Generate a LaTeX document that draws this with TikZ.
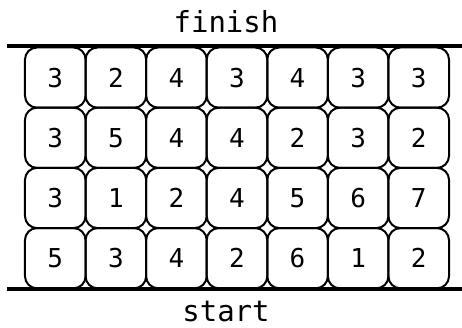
\documentclass[tikz,border=0pt]{standalone}
\usepackage{fontspec}
\newfontfamily\monofont{DejaVu Sans Mono}
\begin{document}
\begin{tikzpicture}[x=1pt,y=-1pt,
  cell/.style={draw, line width=2pt, rounded corners=12pt, minimum width=60.6pt, minimum height=60.2pt, inner sep=0pt, font=\monofont\fontsize{26}{26}\selectfont},
  rail/.style={line width=3.6pt},
  label/.style={font=\monofont\fontsize{29}{29}\selectfont, inner sep=0pt, text depth=0pt}]
\useasboundingbox (0,0) rectangle (462,328);
\foreach \r/\vals in {1/{3,2,4,3,4,3,3},2/{3,5,4,4,2,3,2},3/{3,1,2,4,5,6,7},4/{5,3,4,2,6,1,2}}{
  \foreach \v [count=\c] in \vals {
    \node[cell] (c-\r-\c) at ({25+60.57*(\c-0.5)},{47.5+60.2*(\r-0.5)}) {\v};
  }
}
\coordinate (tl) at (7,46);
\coordinate (tr) at (462,46);
\coordinate (bl) at (7,289);
\coordinate (br) at (462,289);
\draw[rail] (tl) -- (tr);
\draw[rail] (bl) -- (br);
\node[label, anchor=base] (finish) at (226,33) {finish};
\node[label, anchor=base] (start) at (226,321.5) {start};
\end{tikzpicture}
\end{document}
